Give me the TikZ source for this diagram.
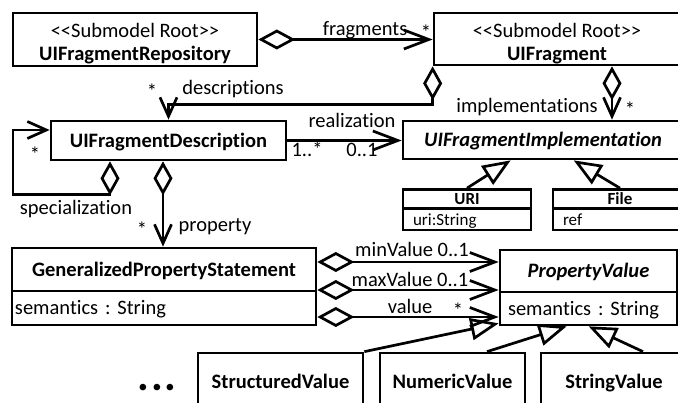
\documentclass[tikz,border=0pt]{standalone}
\usepackage{fontspec}
\setmainfont{Carlito}[Ligatures={TeX,NoCommon}]
\usetikzlibrary{arrows.meta,calc}
\frenchspacing
\begin{document}
\begin{tikzpicture}[x=1pt,y=-1pt,
  cls/.style={draw, line width=2.7pt, inner sep=0pt, text height=13.5pt, text depth=0pt,
    font=\fontsize{20.5}{23}\selectfont},
  smallcls/.style={cls, text height=12pt, font=\fontsize{17}{19}\selectfont},
  txt/.style={anchor=base, inner sep=0pt, font=\fontsize{20.5}{23}\selectfont},
  aggh/.style={line width=2.7pt, {Diamond[open,length=37pt,width=20pt]}-{Straight Barb[length=25pt,width=19pt]}},
  aggv/.style={line width=2.7pt, {Diamond[open,length=34pt,width=19pt]}-{Straight Barb[length=19pt,width=17pt]}},
  assoc/.style={line width=2.7pt, -{Straight Barb[length=25pt,width=19pt]}},
  gen/.style={line width=2.7pt, -{Triangle[open,length=28pt,width=22pt]}}
]
\useasboundingbox (0,0) rectangle (678,403);

% --- classes ---
\node[cls, minimum width=244, minimum height=53] (repo) at (135,39.5) {};
\node[txt] (repoSt) at (135,38) {<{}<Submodel Root>{}>};
\node[txt] (repoNm) at (135,61) {\textbf{UIFragmentRepository}};

\node[cls, minimum width=246, minimum height=52] (frag) at (557,39) {};
\node[txt] (fragSt) at (557,38) {<{}<Submodel Root>{}>};
\node[txt] (fragNm) at (557,61) {\textbf{UIFragment}};

\node[cls, minimum width=235, minimum height=39] (desc) at (168.5,140.5) {\textbf{UIFragmentDescription}};
\node[cls, minimum width=280, minimum height=38] (impl) at (543,140) {\textbf{\textit{UIFragmentImplementation}}};

\node[smallcls, minimum width=128, minimum height=19] (urih) at (467,199) {\textbf{URI}};
\node[smallcls, minimum height=21.5, inner xsep=10pt, text width=108pt, align=left] (uria) at (467,219.25) {uri:String};
\node[smallcls, minimum width=134, minimum height=19] (fileh) at (620,199) {\textbf{File}};
\node[smallcls, minimum height=21.5, inner xsep=10pt, text width=114pt, align=left] (filea) at (620,219.25) {ref};

\node[cls, minimum width=304, minimum height=43] (gpsh) at (164,269.5) {\textbf{GeneralizedPropertyStatement}};
\node[cls, minimum height=34, inner xsep=3pt, text width=298pt, align=left] (gpsa) at (164,308) {semantics : String};

\node[cls, minimum width=177, minimum height=42] (pvh) at (588.5,271) {\textbf{\textit{PropertyValue}}};
\node[cls, minimum height=33, inner xsep=8pt, text width=161pt, align=left] (pva) at (588.5,308.5) {semantics : String};

\node[cls, minimum width=165, minimum height=57] (sv) at (280.5,381.5) {\textbf{StructuredValue}};
\node[cls, minimum width=145, minimum height=57] (nv) at (452.5,381.5) {\textbf{NumericValue}};
\node[cls, minimum width=146, minimum height=57] (stv) at (614,381.5) {\textbf{StringValue}};

\node[anchor=base, inner sep=0pt, text depth=0pt, font=\fontsize{44}{44}\selectfont\bfseries] (more) at (157,391) {.\kern2pt.\kern2pt.};

% --- helper columns and rows ---
\coordinate (implx) at (612,0);
\coordinate (loopx) at (110,0);
\coordinate (loopc) at (13,130);
\coordinate (propx) at (163,0);
\coordinate (rmin) at (0,262);
\coordinate (rmax) at (0,290);
\coordinate (rval) at (0,317);

% --- associations ---
\draw[aggh] (repo.east) -- (repo.east -| frag.west);
\draw[aggv] (frag.south west) -- ++(0,38) -| (desc.north);
\draw[aggv] (frag.south -| implx) -- (impl.north -| implx);
\draw[assoc] (desc.east) -- (desc.east -| impl.west);
\draw[aggv] (desc.south -| loopx) -- ++(0,33) -| (loopc) -- (loopc -| desc.west);
\draw[aggv] (desc.south -| propx) -- (gpsh.north -| propx);
\draw[aggh] (gpsh.east |- rmin) -- (pvh.west |- rmin);
\draw[aggh] (gpsh.east |- rmax) -- (pvh.west |- rmax);
\draw[aggh] (gpsa.east |- rval) -- (pva.west |- rval);

% --- generalizations ---
\draw[gen] (urih.north) -- ($(impl.south west)+(109,0)$);
\draw[gen] (fileh.north) -- ($(impl.south west)+(172,0)$);
\draw[gen] (sv.north east) -- ($(pva.south west)+(0,-3)$);
\draw[gen] ($(nv.north)+(34.5,0)$) -- ($(pva.south west)+(68,0)$);
\draw[gen] ($(stv.north)+(29,0)$) -- ($(pva.south west)+(90,0)$);

% --- role names and multiplicities ---
\node[txt] (lfrag) at (365,36) {fragments};
\node[txt] (lfragm) at (426,40) {*};
\node[txt] (ldescm) at (152,99) {*};
\node[txt] (ldesc) at (233,95) {descriptions};
\node[txt] (limpl) at (527,113) {implementations};
\node[txt] (limplm) at (630,117) {*};
\node[txt] (lreal) at (352,128) {realization};
\node[txt] (lreal1) at (307,157) {1..*};
\node[txt] (lreal2) at (362,157) {0..1};
\node[txt] (lspecm) at (35,162) {*};
\node[txt] (lspec) at (76,215) {specialization};
\node[txt] (lpropm) at (142,237) {*};
\node[txt] (lprop) at (215,232) {property};
\node[txt] (lmin) at (412,257) {minValue 0..1};
\node[txt] (lmax) at (410,287) {maxValue 0..1};
\node[txt] (lval) at (410,314) {value};
\node[txt] (lvalm) at (458,318) {*};
\end{tikzpicture}
\end{document}
